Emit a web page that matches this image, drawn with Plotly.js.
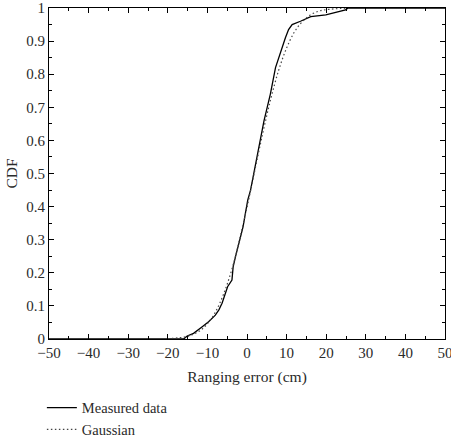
<!DOCTYPE html>
<html>
<head>
<meta charset="utf-8">
<script src="https://cdn.plot.ly/plotly-3.0.1.min.js"></script>
<style>html,body{margin:0;padding:0;background:#fff;}#chart{width:451px;height:440px;}</style>
</head>
<body>
<div id="chart"></div>
<script>
const measuredX = [-50, -18, -16, -15.1, -13.5, -11.3, -9.7, -8.0, -7.1, -6.3, -5.4, -4.9, -3.8, -3.5, -2.9, -2.3, -1.6, -1.0, -0.4, 0.2, 0.9, 1.7, 2.6, 3.4, 4.3, 5.1, 5.9, 7.2, 8.5, 9.7, 10.5, 11.4, 13.5, 16.1, 19.9, 22.0, 24.9, 25.5, 50];
const measuredY = [0, 0, 0, 0.009, 0.017, 0.037, 0.052, 0.072, 0.088, 0.108, 0.138, 0.158, 0.178, 0.218, 0.249, 0.279, 0.309, 0.339, 0.38, 0.42, 0.45, 0.50, 0.55, 0.61, 0.66, 0.70, 0.74, 0.82, 0.87, 0.91, 0.935, 0.95, 0.96, 0.974, 0.979, 0.986, 0.994, 1.0, 1.0];
// Gaussian fit CDF
const gaussX = [-20, -15, -12, -10, -8, -6, -4, -2, 0, 2, 4, 6, 8, 10, 12, 14, 16, 18, 20, 25];
const gaussY = [0.001, 0.008, 0.024, 0.046, 0.081, 0.133, 0.203, 0.294, 0.398, 0.511, 0.623, 0.725, 0.812, 0.879, 0.928, 0.959, 0.979, 0.990, 0.995, 0.9995];
const xTicks = [-50, -40, -30, -20, -10, 0, 10, 20, 30, 40, 50];
const yTicks = [0, 0.1, 0.2, 0.3, 0.4, 0.5, 0.6, 0.7, 0.8, 0.9, 1];

const family = '"Liberation Serif", "DejaVu Serif", serif';
const font = {family: family, size: 15.5, color: '#2a2a2a'};
const tickFont = {family: family, size: 15, color: '#2a2a2a'};
const legendFont = {family: family, size: 14.5, color: '#2a2a2a'};

const traces = [
  {x: measuredX, y: measuredY, mode: 'lines', name: 'Measured data', line: {color: '#000', width: 1.3}},
  {x: gaussX, y: gaussY, mode: 'lines', name: 'Gaussian', line: {color: '#444', width: 1.2, dash: '1.5px,2.5px', shape: 'spline'}}
];

const axisCommon = {
  showgrid: false, zeroline: false, showline: true, linecolor: '#000', linewidth: 1,
  mirror: 'ticks', ticks: 'inside', ticklen: 5, tickcolor: '#000', tickwidth: 1,
  tickfont: tickFont, ticklabeloverflow: 'allow'
};

const layout = {
  width: 451, height: 440,
  margin: {l: 49, r: 6, t: 8, b: 101},
  paper_bgcolor: '#fff', plot_bgcolor: '#fff',
  font: font,
  showlegend: true,
  legend: {x: -0.018, xanchor: 'left', xref: 'paper', y: 0.11, yref: 'container', yanchor: 'top', font: legendFont, bgcolor: 'rgba(0,0,0,0)', tracegroupgap: 0},
  xaxis: Object.assign({}, axisCommon, {
    range: [-50, 50], tickvals: xTicks,
    minor: {dtick: 5, ticks: 'inside', ticklen: 3, tickcolor: '#000', showgrid: false},
    title: {text: 'Ranging error (cm)', font: font, standoff: 11}
  }),
  yaxis: Object.assign({}, axisCommon, {
    range: [0, 1], tickvals: yTicks,
    minor: {dtick: 0.05, ticks: 'inside', ticklen: 3, tickcolor: '#000', showgrid: false},
    title: {text: 'CDF', font: font, standoff: 4}
  })
};

Plotly.newPlot('chart', traces, layout, {displayModeBar: false, staticPlot: true});
</script>
</body>
</html>
